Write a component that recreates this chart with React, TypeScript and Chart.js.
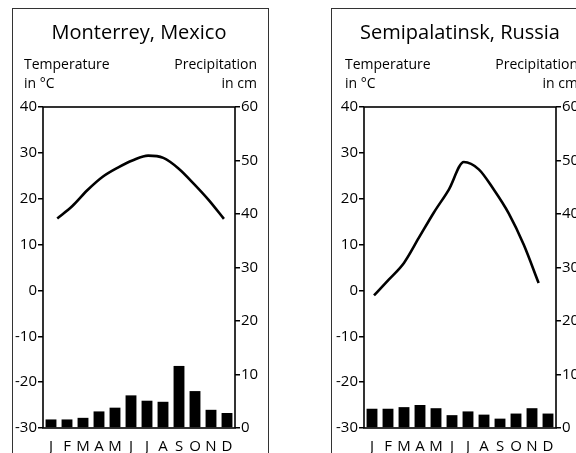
import React, { useEffect, useRef } from "react";
import { Chart, registerables } from "chart.js";

Chart.register(...registerables);

const FONT = "'Open Sans', 'Noto Sans', sans-serif";

const months = ["J", "F", "M", "A", "M", "J", "J", "A", "S", "O", "N", "D"];
const tempAxisLabel = ["Temperature", "in °C"];
const precipAxisLabel = ["Precipitation", "in cm"];

const monterreyTitle = "Monterrey, Mexico";
const monterreyTemp = [15.7, 18.4, 21.9, 24.8, 26.8, 28.4, 29.4, 28.9, 26.6, 23.3, 19.7, 15.6];
const monterreyPrecip = [1.6, 1.6, 1.9, 3.1, 3.8, 6.1, 5.1, 4.9, 11.6, 6.9, 3.4, 2.8];

const semiTitle = "Semipalatinsk, Russia";
const semiTemp = [-1.1, 2.4, 6.0, 11.5, 17.0, 22.0, 28.0, 26.4, 22.0, 16.8, 10.0, 1.6];
const semiPrecip = [3.6, 3.6, 3.9, 4.3, 3.7, 2.4, 3.1, 2.5, 1.75, 2.7, 3.7, 2.7];

const tempRange = [-30, 40];
const precipRange = [0, 60];

type Panel = {
  title: string;
  temp: number[];
  precip: number[];
  canvasLeft: number;
  plotLeft: number;
  plotRight: number;
  lineMin: number;
  lineMax: number;
};

const W = 288;
const H = 453;
const PLOT_TOP = 107;
const PLOT_BOTTOM = 428;

function ClimateChart({ p }: { p: Panel }) {
  const ref = useRef<HTMLCanvasElement | null>(null);
  useEffect(() => {
    if (!ref.current) return;
    const textPlugin = {
      id: "climateText",
      afterDraw(chart: any) {
        const { ctx, chartArea: a } = chart;
        ctx.save();
        ctx.fillStyle = "#000";
        ctx.textBaseline = "alphabetic";
        ctx.font = `20px ${FONT}`;
        ctx.textAlign = "center";
        ctx.fillText(p.title, (a.left + a.right) / 2, 39);
        ctx.font = `14px ${FONT}`;
        ctx.textAlign = "left";
        ctx.fillText(tempAxisLabel[0], a.left - 19, 69);
        ctx.fillText(tempAxisLabel[1], a.left - 19, 88);
        ctx.textAlign = "right";
        ctx.fillText(precipAxisLabel[0], a.right + 22, 69);
        ctx.fillText(precipAxisLabel[1], a.right + 22, 88);
        ctx.strokeStyle = "#000";
        ctx.lineWidth = 1.6;
        ctx.strokeRect(a.left, a.top, a.right - a.left, a.bottom - a.top);
        ctx.restore();
      },
    };
    const tickFont = { family: FONT, size: 15 };
    const chart = new Chart(ref.current, {
      type: "bar",
      data: {
        labels: months,
        datasets: [
          {
            type: "line",
            data: p.temp.map((v, i) => ({ x: i, y: v })),
            xAxisID: "xl",
            yAxisID: "y",
            borderColor: "#000",
            borderWidth: 2.6,
            pointRadius: 0,
            cubicInterpolationMode: "monotone",
            fill: false,
            order: 0,
          } as any,
          {
            type: "bar",
            data: p.precip,
            xAxisID: "x",
            yAxisID: "y1",
            backgroundColor: "#000",
            barPercentage: 0.68,
            categoryPercentage: 1,
            grouped: false,
            order: 1,
          } as any,
        ],
      },
      options: {
        animation: false,
        responsive: false,
        maintainAspectRatio: false,
        layout: { padding: { top: PLOT_TOP, left: 0, right: 0, bottom: 0 } },
        plugins: {
          legend: { display: false },
          tooltip: { enabled: false },
          title: { display: false },
        },
        scales: {
          x: {
            type: "category",
            position: "bottom",
            offset: true,
            grid: { display: false },
            border: { display: false },
            ticks: {
              color: "#000",
              font: { family: FONT, size: 15 },
              padding: 2,
              autoSkip: false,
              maxRotation: 0,
            },
            afterFit: (s: any) => {
              s.height = H - PLOT_BOTTOM;
            },
          },
          xl: {
            type: "linear",
            display: false,
            offset: false,
            min: p.lineMin,
            max: p.lineMax,
          },
          y: {
            position: "left",
            min: tempRange[0],
            max: tempRange[1],
            ticks: { stepSize: 10, color: "#000", font: tickFont, padding: 1 },
            grid: { drawOnChartArea: false, tickLength: 5, color: "#000", lineWidth: 1.5 },
            border: { display: false },
            afterFit: (s: any) => {
              s.width = p.plotLeft;
            },
          },
          y1: {
            position: "right",
            min: precipRange[0],
            max: precipRange[1],
            ticks: { stepSize: 10, color: "#000", font: tickFont, padding: 1 },
            grid: { drawOnChartArea: false, tickLength: 5, color: "#000", lineWidth: 1.5 },
            border: { display: false },
            afterFit: (s: any) => {
              s.width = W - p.plotRight;
            },
          },
        },
      } as any,
      plugins: [textPlugin],
    });
    return () => chart.destroy();
  }, [p]);
  return (
    <canvas
      ref={ref}
      width={W}
      height={H}
      style={{ position: "absolute", left: p.canvasLeft, top: 0, width: W, height: H }}
    />
  );
}

const panels: Panel[] = [
  {
    title: monterreyTitle,
    temp: monterreyTemp,
    precip: monterreyPrecip,
    canvasLeft: 0,
    plotLeft: 43,
    plotRight: 235,
    lineMin: -0.94,
    lineMax: 11.73,
  },
  {
    title: semiTitle,
    temp: semiTemp,
    precip: semiPrecip,
    canvasLeft: 288,
    plotLeft: 76,
    plotRight: 268,
    lineMin: -0.67,
    lineMax: 12.16,
  },
];

export default function App() {
  return (
    <div
      style={{
        position: "fixed",
        left: 0,
        top: 0,
        width: 576,
        height: 453,
        overflow: "hidden",
        background: "#fff",
      }}
    >
      <div
        style={{
          position: "absolute",
          left: 12,
          top: 8,
          width: 255,
          height: 480,
          border: "1px solid #333",
        }}
      />
      <div
        style={{
          position: "absolute",
          left: 331,
          top: 8,
          width: 300,
          height: 480,
          border: "1px solid #333",
        }}
      />
      {panels.map((p) => (
        <ClimateChart key={p.title} p={p} />
      ))}
    </div>
  );
}
